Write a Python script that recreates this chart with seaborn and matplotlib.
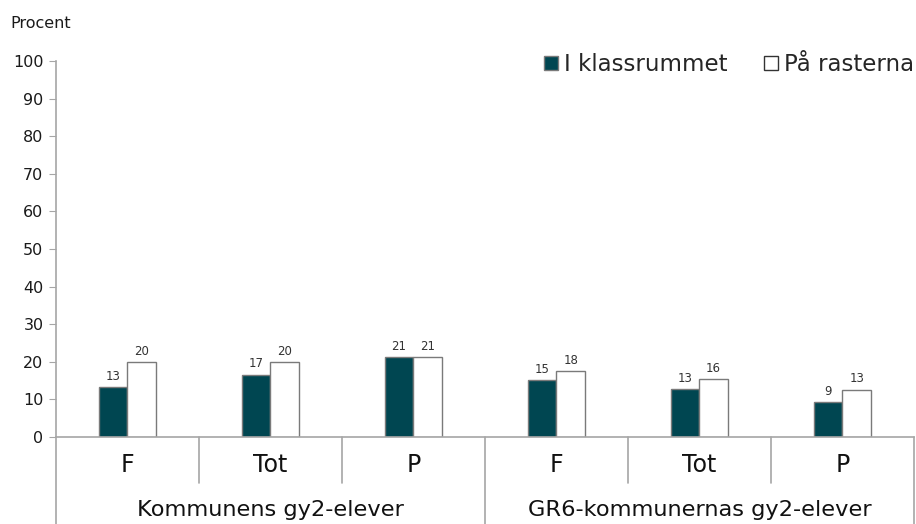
import pandas as pd
import numpy as np
import matplotlib
matplotlib.use("Agg")
import matplotlib.pyplot as plt
import seaborn as sns
from matplotlib.patches import Patch

# ----- data -----
groups = ["Kommunens gy2-elever", "GR6-kommunernas gy2-elever"]
subcats = ["F", "Tot", "P"]
series = ["I klassrummet", "På rasterna"]
klassrum = [13.2, 16.6, 21.2, 15.2, 12.7, 9.2]
raster = [19.9, 20.0, 21.2, 17.6, 15.5, 12.6]

keys = [f"{g}|{s}" for g in groups for s in subcats]
df = pd.DataFrame({
    "key": keys * 2,
    "serie": [series[0]] * 6 + [series[1]] * 6,
    "value": klassrum + raster,
})

dark = "#004651"
edge = "#7a7a7a"
axcol = "#a6a6a6"

sns.set_style("white")
plt.rcParams["font.family"] = ["DejaVu Sans"]

fig = plt.figure(figsize=(9.16, 5.24), dpi=100)
ax = fig.add_axes([0.0611, 0.166, 0.9365, 0.7176])

sns.barplot(data=df, x="key", y="value", hue="serie", order=keys,
            hue_order=series, palette=[dark, "white"], width=0.4, gap=0,
            edgecolor=edge, linewidth=1.0, saturation=1, legend=False, ax=ax)

for cont in ax.containers:
    ax.bar_label(cont, fmt="%.0f", padding=3, fontsize=8.5, color="#333333")

ax.set_xlim(-0.5, 5.5)
ax.set_ylim(0, 100)
ax.set_yticks(range(0, 101, 10))
ax.tick_params(axis="y", labelsize=11.5, length=5, color=axcol, pad=4,
               left=True, labelcolor="#1a1a1a")
ax.set_xticks([])
ax.set_xlabel("")
ax.set_ylabel("")
for side in ["top", "right"]:
    ax.spines[side].set_visible(False)
for side in ["left", "bottom"]:
    ax.spines[side].set_color(axcol)
    ax.spines[side].set_linewidth(1.2)

# two-level category axis
trans = ax.get_xaxis_transform()
for i, s in enumerate(subcats * 2):
    ax.text(i, -0.075, s, transform=trans, ha="center", va="center",
            fontsize=17, color="#111111")
for gi, g in enumerate(groups):
    ax.text(gi * 3 + 1, -0.195, g, transform=trans, ha="center",
            va="center", fontsize=16.2, color="#111111")
for x in [0.5, 1.5, 3.5, 4.5]:
    ax.plot([x, x], [0, -0.122], transform=trans, color=axcol, lw=1.2,
            clip_on=False)
for x in [-0.5, 2.5, 5.5]:
    ax.plot([x, x], [0, -0.235], transform=trans, color=axcol, lw=1.2,
            clip_on=False)

fig.text(0.011, 0.955, "Procent", fontsize=11.5, color="#1a1a1a",
         ha="left", va="center")

handles = [Patch(facecolor=dark, edgecolor=edge, label=series[0]),
           Patch(facecolor="white", edgecolor="#333333", label=series[1])]
fig.legend(handles=handles, loc="center right", bbox_to_anchor=(1.02, 0.877),
           ncol=2, frameon=False, fontsize=16.5, handlelength=0.6,
           handleheight=0.6, handletextpad=0.25, columnspacing=1.6)

fig.savefig("out.png", dpi=100)
